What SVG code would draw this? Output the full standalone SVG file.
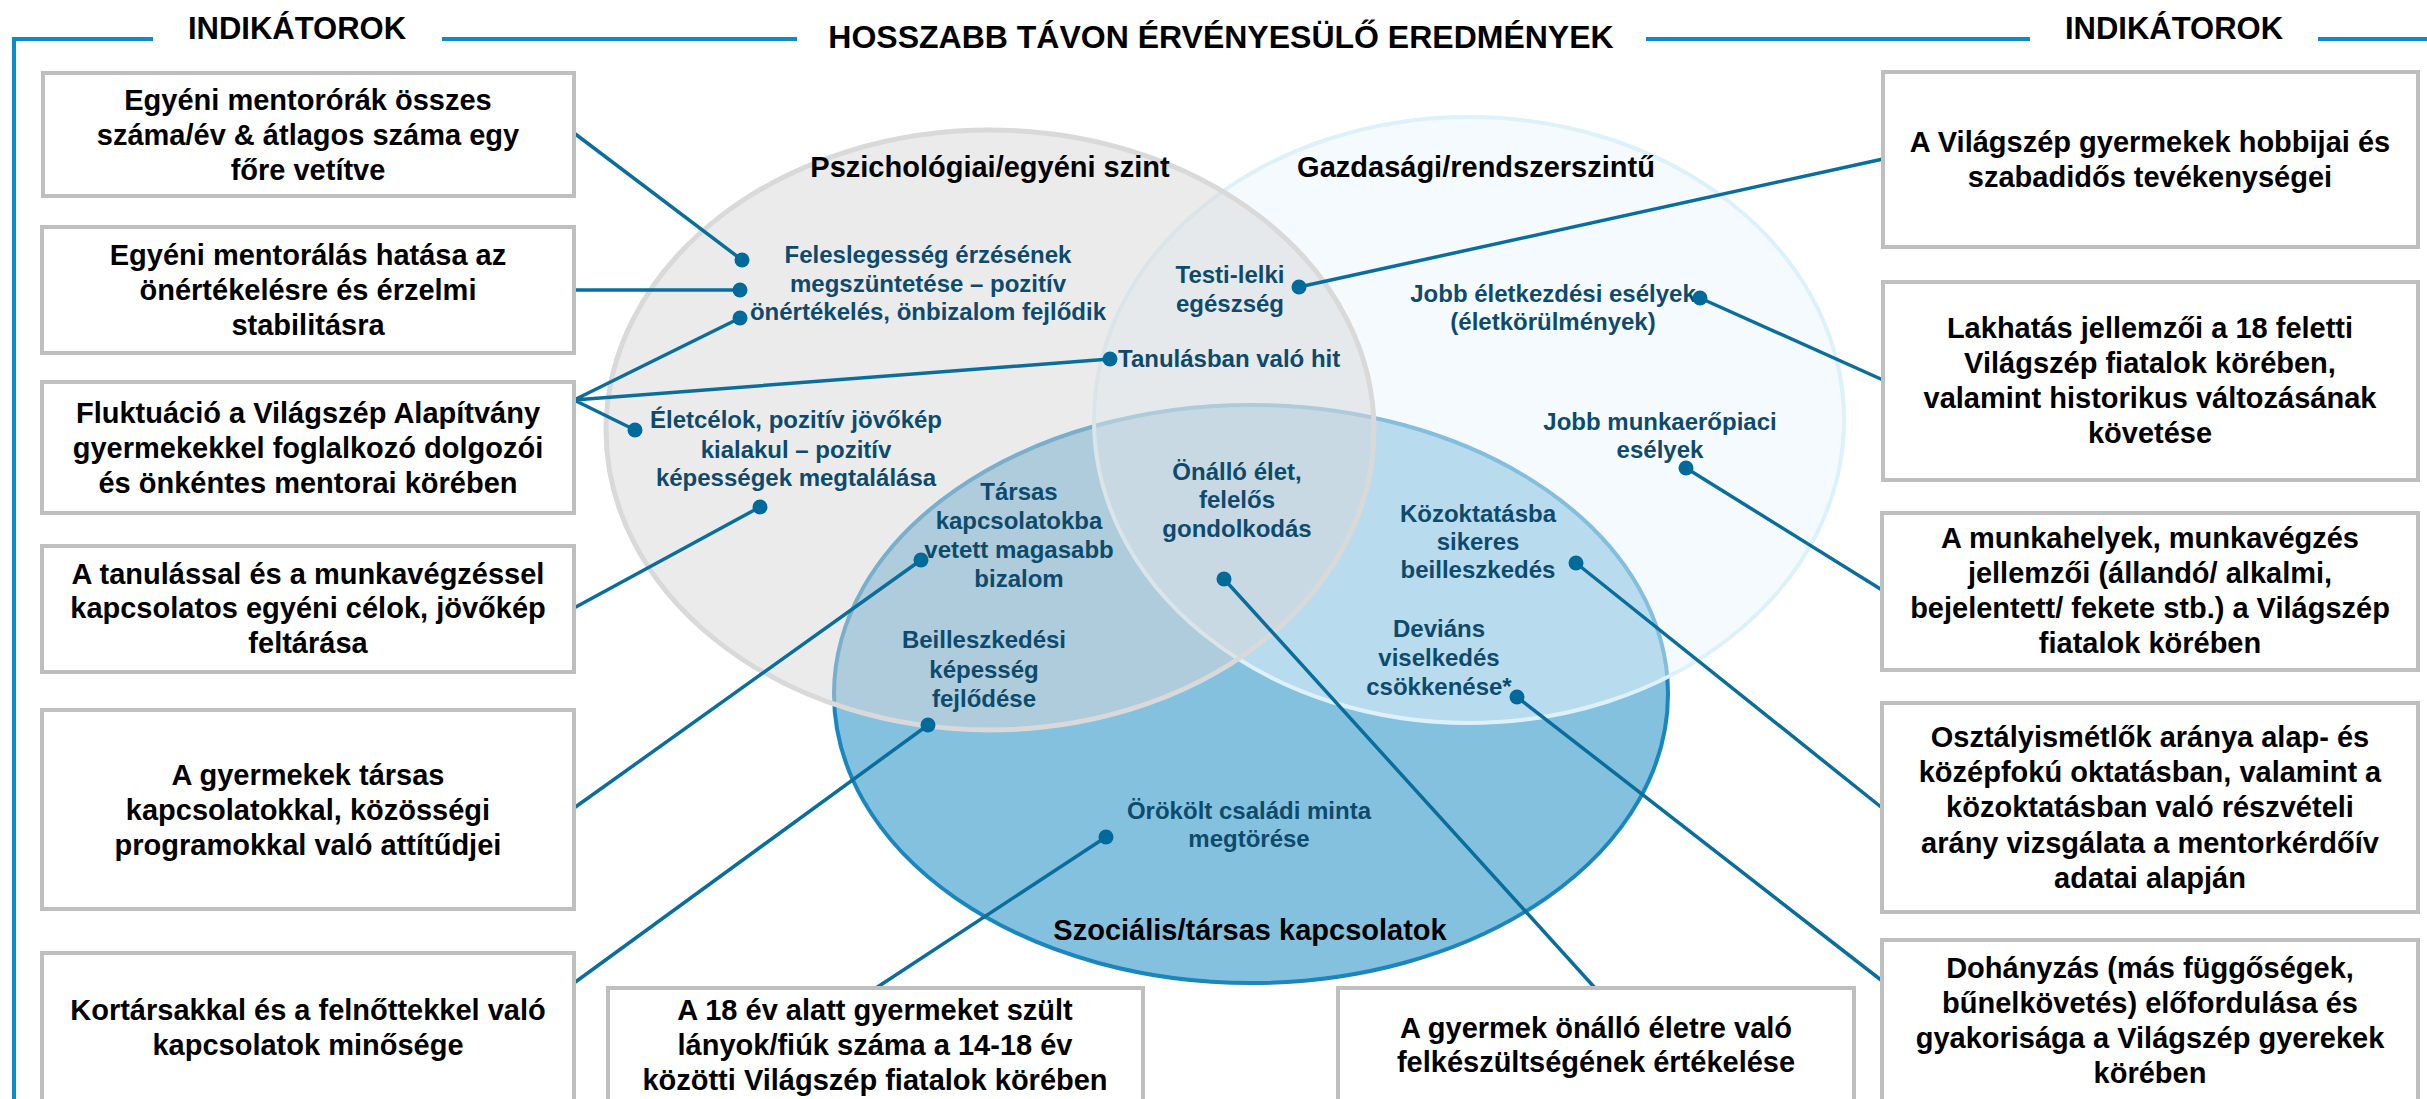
<svg xmlns="http://www.w3.org/2000/svg" width="2427" height="1099" viewBox="0 0 2427 1099">
<style>
.frame{stroke:#0A8BCB;stroke-width:4;fill:none}
.hdr{font-family:"Liberation Sans",Arial,sans-serif;font-weight:bold;fill:#000;text-anchor:middle}
.box{fill:#fff;stroke:#BFBFBF;stroke-width:4}
.bt{font-family:"Liberation Sans",Arial,sans-serif;font-weight:bold;font-size:29px;fill:#000;text-anchor:middle}
.vt{font-family:"Liberation Sans",Arial,sans-serif;font-weight:bold;font-size:24px;fill:#0D4A6B;text-anchor:middle}
.vs{text-anchor:start}
.vh{font-family:"Liberation Sans",Arial,sans-serif;font-weight:bold;font-size:29px;fill:#000;text-anchor:middle}
.ln{stroke:#0A6E9C;stroke-width:3.5;fill:none}
.dot{fill:#006A9A}
</style>
<rect width="2427" height="1099" fill="#fff"/>
<g id="frame">
<path class="frame" d="M14,1099 V39 H153 M442,39 H797 M1646,39 H2030 M2318,39 H2427"/>
<text class="hdr" x="297" y="39" font-size="31">INDIKÁTOROK</text>
<text class="hdr" x="1221" y="48" font-size="32">HOSSZABB TÁVON ÉRVÉNYESÜLŐ EREDMÉNYEK</text>
<text class="hdr" x="2174" y="39" font-size="31">INDIKÁTOROK</text>
</g>
<g id="venn">
<ellipse id="szocialis" cx="1251" cy="694" rx="417" ry="289" fill="#84C1DE" stroke="#1A86BE" stroke-width="4"/>
<ellipse id="gazdasagi" cx="1469" cy="420" rx="375" ry="303" fill="rgb(235,245,253)" fill-opacity="0.5" stroke="#DDF1FB" stroke-width="4"/>
<ellipse id="pszichologiai" cx="990" cy="430" rx="384" ry="300" fill="rgb(215,215,215)" fill-opacity="0.5" stroke="#D9D9D9" stroke-width="5"/>
<text class="vh" x="990" y="177">Pszichológiai/egyéni szint</text>
<text class="vh" x="1476" y="177">Gazdasági/rendszerszintű</text>
<text class="vh" x="1250" y="940">Szociális/társas kapcsolatok</text>
</g>
<g id="outcomes">
<g id="o-feleslegesseg"><text class="vt" x="928" y="263">Feleslegesség érzésének</text><text class="vt" x="928" y="292">megszüntetése – pozitív</text><text class="vt" x="928" y="320">önértékelés, önbizalom fejlődik</text></g>
<g id="o-testi"><text class="vt" x="1230" y="283">Testi-lelki</text><text class="vt" x="1230" y="312">egészség</text></g>
<g id="o-tanulas"><text class="vt vs" x="1118" y="367">Tanulásban való hit</text></g>
<g id="o-eletkezdes"><text class="vt" x="1553" y="302">Jobb életkezdési esélyek</text><text class="vt" x="1553" y="330">(életkörülmények)</text></g>
<g id="o-munkaero"><text class="vt" x="1660" y="430">Jobb munkaerőpiaci</text><text class="vt" x="1660" y="458">esélyek</text></g>
<g id="o-eletcelok"><text class="vt" x="796" y="428">Életcélok, pozitív jövőkép</text><text class="vt" x="796" y="458">kialakul – pozitív</text><text class="vt" x="796" y="486">képességek megtalálása</text></g>
<g id="o-tarsas"><text class="vt" x="1019" y="500">Társas</text><text class="vt" x="1019" y="529">kapcsolatokba</text><text class="vt" x="1019" y="558">vetett magasabb</text><text class="vt" x="1019" y="587">bizalom</text></g>
<g id="o-onallo"><text class="vt" x="1237" y="480">Önálló élet,</text><text class="vt" x="1237" y="508">felelős</text><text class="vt" x="1237" y="537">gondolkodás</text></g>
<g id="o-kozoktatas"><text class="vt" x="1478" y="522">Közoktatásba</text><text class="vt" x="1478" y="550">sikeres</text><text class="vt" x="1478" y="578">beilleszkedés</text></g>
<g id="o-beilleszkedes"><text class="vt" x="984" y="648">Beilleszkedési</text><text class="vt" x="984" y="678">képesség</text><text class="vt" x="984" y="707">fejlődése</text></g>
<g id="o-devians"><text class="vt" x="1439" y="637">Deviáns</text><text class="vt" x="1439" y="666">viselkedés</text><text class="vt" x="1439" y="695">csökkenése*</text></g>
<g id="o-orokolt"><text class="vt" x="1249" y="819">Örökölt családi minta</text><text class="vt" x="1249" y="847">megtörése</text></g>
</g>
<g id="connectors">
<path class="ln" d="M574,133 L742,260 M574,290 L740,290 M574,400 L740,318 M574,400 L1110,359 M574,400 L635,430 M574,608 L760,507 M574,808 L921,560 M574,983 L928,725 M876,988 L1106,837 M1595,988 L1224,579 M1299,287 L1883,159 M1700,298 L1883,380 M1686,468 L1882,590 M1576,563 L1881,807 M1517,697 L1881,980"/>
<circle class="dot" cx="742" cy="260" r="7.5"/>
<circle class="dot" cx="740" cy="290" r="7.5"/>
<circle class="dot" cx="740" cy="318" r="7.5"/>
<circle class="dot" cx="1110" cy="359" r="7.5"/>
<circle class="dot" cx="635" cy="430" r="7.5"/>
<circle class="dot" cx="760" cy="507" r="7.5"/>
<circle class="dot" cx="921" cy="560" r="7.5"/>
<circle class="dot" cx="928" cy="725" r="7.5"/>
<circle class="dot" cx="1106" cy="837" r="7.5"/>
<circle class="dot" cx="1224" cy="579" r="7.5"/>
<circle class="dot" cx="1299" cy="287" r="7.5"/>
<circle class="dot" cx="1700" cy="298" r="7.5"/>
<circle class="dot" cx="1686" cy="468" r="7.5"/>
<circle class="dot" cx="1576" cy="563" r="7.5"/>
<circle class="dot" cx="1517" cy="697" r="7.5"/>
</g>
<g id="ind-1"><rect class="box" x="43" y="73" width="531" height="123"/><text class="bt" x="308" y="110">Egyéni mentorórák összes</text><text class="bt" x="308" y="145">száma/év &amp; átlagos száma egy</text><text class="bt" x="308" y="180">főre vetítve</text></g>
<g id="ind-2"><rect class="box" x="42" y="227" width="532" height="126"/><text class="bt" x="308" y="265">Egyéni mentorálás hatása az</text><text class="bt" x="308" y="300">önértékelésre és érzelmi</text><text class="bt" x="308" y="335">stabilitásra</text></g>
<g id="ind-3"><rect class="box" x="42" y="382" width="532" height="131"/><text class="bt" x="308" y="423">Fluktuáció a Világszép Alapítvány</text><text class="bt" x="308" y="458">gyermekekkel foglalkozó dolgozói</text><text class="bt" x="308" y="493">és önkéntes mentorai körében</text></g>
<g id="ind-4"><rect class="box" x="42" y="546" width="532" height="126"/><text class="bt" x="308" y="584">A tanulással és a munkavégzéssel</text><text class="bt" x="308" y="618">kapcsolatos egyéni célok, jövőkép</text><text class="bt" x="308" y="653">feltárása</text></g>
<g id="ind-5"><rect class="box" x="42" y="710" width="532" height="199"/><text class="bt" x="308" y="785">A gyermekek társas</text><text class="bt" x="308" y="820">kapcsolatokkal, közösségi</text><text class="bt" x="308" y="855">programokkal való attítűdjei</text></g>
<g id="ind-6"><rect class="box" x="42" y="953" width="532" height="170"/><text class="bt" x="308" y="1020">Kortársakkal és a felnőttekkel való</text><text class="bt" x="308" y="1055">kapcsolatok minősége</text></g>
<g id="ind-7"><rect class="box" x="608" y="988" width="535" height="135"/><text class="bt" x="875" y="1020">A 18 év alatt gyermeket szült</text><text class="bt" x="875" y="1055">lányok/fiúk száma a 14-18 év</text><text class="bt" x="875" y="1090">közötti Világszép fiatalok körében</text></g>
<g id="ind-8"><rect class="box" x="1338" y="988" width="516" height="135"/><text class="bt" x="1596" y="1038">A gyermek önálló életre való</text><text class="bt" x="1596" y="1072">felkészültségének értékelése</text></g>
<g id="ind-9"><rect class="box" x="1883" y="72" width="535" height="175"/><text class="bt" x="2150" y="152">A Világszép gyermekek hobbijai és</text><text class="bt" x="2150" y="187">szabadidős tevékenységei</text></g>
<g id="ind-10"><rect class="box" x="1883" y="282" width="535" height="198"/><text class="bt" x="2150" y="338">Lakhatás jellemzői a 18 feletti</text><text class="bt" x="2150" y="373">Világszép fiatalok körében,</text><text class="bt" x="2150" y="408">valamint historikus változásának</text><text class="bt" x="2150" y="443">követése</text></g>
<g id="ind-11"><rect class="box" x="1882" y="513" width="536" height="157"/><text class="bt" x="2150" y="548">A munkahelyek, munkavégzés</text><text class="bt" x="2150" y="583">jellemzői (állandó/ alkalmi,</text><text class="bt" x="2150" y="618">bejelentett/ fekete stb.) a Világszép</text><text class="bt" x="2150" y="653">fiatalok körében</text></g>
<g id="ind-12"><rect class="box" x="1882" y="703" width="536" height="209"/><text class="bt" x="2150" y="747">Osztályismétlők aránya alap- és</text><text class="bt" x="2150" y="782">középfokú oktatásban, valamint a</text><text class="bt" x="2150" y="817">közoktatásban való részvételi</text><text class="bt" x="2150" y="853">arány vizsgálata a mentorkérdőív</text><text class="bt" x="2150" y="888">adatai alapján</text></g>
<g id="ind-13"><rect class="box" x="1882" y="940" width="536" height="183"/><text class="bt" x="2150" y="978">Dohányzás (más függőségek,</text><text class="bt" x="2150" y="1013">bűnelkövetés) előfordulása és</text><text class="bt" x="2150" y="1048">gyakorisága a Világszép gyerekek</text><text class="bt" x="2150" y="1083">körében</text></g>
</svg>
